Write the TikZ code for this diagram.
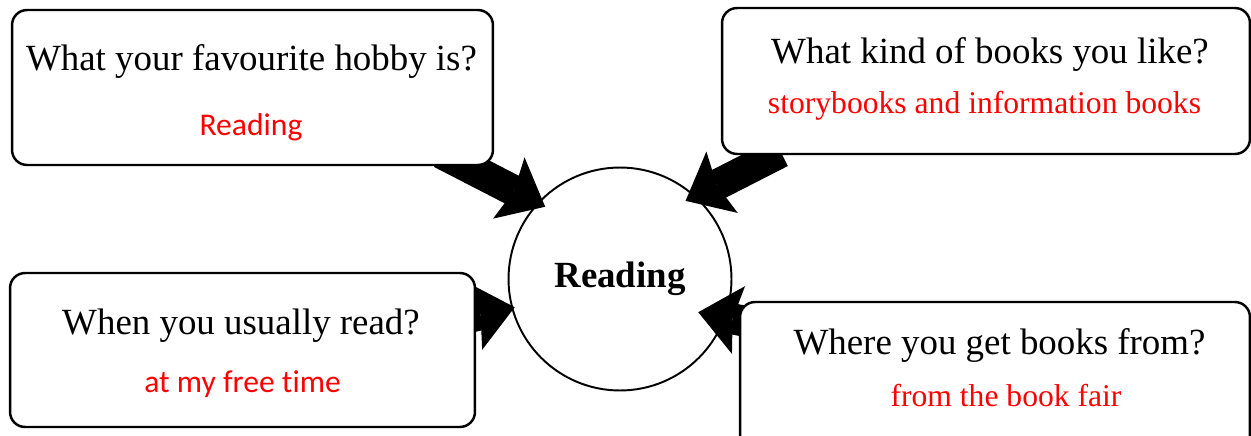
\documentclass[tikz,border=0pt]{standalone}
\usepackage{fontspec}
\setmainfont{Liberation Serif}
\newfontfamily\calib[Ligatures=NoCommon]{Carlito}
\usetikzlibrary{arrows.meta, backgrounds, positioning}

\begin{document}
\begin{tikzpicture}[x=0.02cm, y=-0.02cm,
        box/.style={draw, line width=1.4pt, rounded corners=0.3cm, fill=white, inner sep=0pt},
        qtext/.style={inner sep=0pt, anchor=base, font=\fontsize{21}{25}\selectfont},
        ans/.style={inner sep=0pt, anchor=base, text=red, font=\fontsize{18}{22}\selectfont},
        anssans/.style={ans, font=\calib\fontsize{18}{22}\selectfont},
        fat/.style={line width=0.62cm, -{Stealth[length=0.82cm, width=1.38cm, inset=0.12cm, line width=0pt]}}]
    \useasboundingbox (0,0) rectangle (1251,436);

    % the four question boxes
    \node[box, minimum width=9.62cm, minimum height=3.1cm] (box1) at (252.5,87.5) {};
    \node[box, minimum width=10.56cm, minimum height=2.92cm] (box2) at (986,81) {};
    \node[box, minimum width=9.3cm, minimum height=3.08cm] (box3) at (242.5,350) {};
    \node[box, minimum width=10.2cm, minimum height=2.96cm] (box4) at (995,376) {};

    \node[draw, circle, line width=1.1pt, minimum size=4.46cm, font=\bfseries\fontsize{21}{25}\selectfont]
        (hub) at (620,279) {Reading};

    \node[qtext] (q1) at (251.5,70.7) {What your favourite hobby is?};
    \node[anssans] (a1) at (251,135) {Reading};
    \node[qtext] (q2) at (990,63) {What kind of books you like?};
    \node[ans] (a2) at (984.5,113) {storybooks and information books};
    \node[qtext] (q3) at (241,334) {When you usually read?};
    \node[anssans] (a3) at (242.5,392) {at my free time};
    \node[qtext] (q4) at (999.5,354) {Where you get books from?};
    \node[ans] (a4) at (1006,406) {from the book fair};

    % block arrows go under the boxes
    \begin{pgfonlayer}{background}
        \draw[fat] ([shift={(-53,-13)}]box1.south east) -- ([shift={(224:104)}]hub.center);
        \draw[fat] ([shift={(60,-3)}]box2.south west) -- ([shift={(310:102)}]hub.center);
        \draw[fat] ([shift={(-10,-32)}]box3.east) -- ([shift={(165:109)}]hub.center);
        \draw[fat] ([shift={(14,22)}]box4.north west) -- ([shift={(23:85)}]hub.center);
    \end{pgfonlayer}
\end{tikzpicture}
\end{document}
